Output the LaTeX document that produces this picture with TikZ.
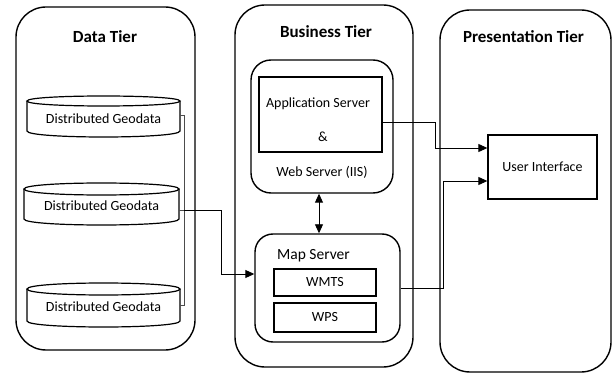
\documentclass[tikz,border=0pt]{standalone}
\usepackage{fontspec}
\setmainfont{Carlito}
\usetikzlibrary{arrows.meta,calc}
\begin{document}
\begin{tikzpicture}[x=1pt,y=-1pt,
 tier/.style={draw,line width=1.4pt,rounded corners=30pt,inner sep=0pt},
 rbox/.style={draw,line width=1.4pt,rounded corners=18pt,inner sep=0pt},
 sbox/.style={draw,line width=1.3pt,inner sep=0pt},
 lbl/.style={font=\fontsize{14}{16}\selectfont, inner sep=0pt},
 ttl/.style={font=\fontsize{17}{19}\selectfont\bfseries, inner sep=0pt},
 conn/.style={line width=0.9pt},
 arr/.style={conn,-{Triangle[length=9pt,width=8pt]}},
 darr/.style={conn,{Triangle[length=9pt,width=8pt]}-{Triangle[length=9pt,width=8pt]}},
 cylline/.style={line width=1.2pt},
 brk/.style={line width=0.7pt,black!70}]
\useasboundingbox (0,0) rectangle (613,374);
% tiers
\node[tier,minimum width=179pt,minimum height=343pt] (data) at (105.5,178.5) {};
\node[tier,minimum width=178pt,minimum height=362pt] (bus) at (324,186) {};
\node[tier,minimum width=171pt,minimum height=362pt] (pres) at (525.5,191) {};
\node[ttl] (tdata) at (105,37) {Data Tier};
\node[ttl] (tbus) at (326,32) {Business Tier};
\node[ttl] (tpres) at (523.5,37) {Presentation Tier};
% cylinders
\draw[cylline] (27,101) .. controls (27,94.33) and (180,94.33) .. (180,101) .. controls (180,107.67) and (27,107.67) .. (27,101) -- cycle;
\draw[cylline] (27,101) -- (27,131) .. controls (27,139) and (180,139) .. (180,131) -- (180,101);
\draw[cylline] (24,189) .. controls (24,181) and (179,181) .. (179,189) .. controls (179,197) and (24,197) .. (24,189) -- cycle;
\draw[cylline] (24,189) -- (24,219) .. controls (24,227) and (179,227) .. (179,219) -- (179,189);
\draw[cylline] (27,289) .. controls (27,281) and (180,281) .. (180,289) .. controls (180,297) and (27,297) .. (27,289) -- cycle;
\draw[cylline] (27,289) -- (27,321) .. controls (27,329) and (180,329) .. (180,321) -- (180,289);
\node[lbl,minimum width=153pt] (cyl1) at (103.5,119) {Distributed Geodata};
\node[lbl,minimum width=155pt] (cyl2) at (101.5,206) {Distributed Geodata};
\node[lbl,minimum width=153pt] (cyl3) at (103.5,307) {Distributed Geodata};
% business tier content
\node[rbox,rounded corners=20pt,minimum width=142pt,minimum height=133pt] (web) at (322,126.5) {};
\node[sbox,minimum width=123pt,minimum height=75pt] (app) at (320.5,114.5) {};
\node[lbl] (tapp) at (318,104) {Application Server};
\node[lbl] (tamp) at (323,137) {\&};
\node[lbl] (tweb) at (322,172) {Web Server (IIS)};
\node[rbox,minimum width=145pt,minimum height=108pt] (map) at (327.5,288) {};
\node[lbl,font=\fontsize{15.5}{17}\selectfont] (tmap) at (313.5,256) {Map Server};
\node[sbox,lbl,minimum width=102pt,minimum height=27pt] (wmts) at (325,282.5) {WMTS};
\node[sbox,lbl,minimum width=102pt,minimum height=29pt] (wps) at (325,317.5) {WPS};
% presentation tier content
\node[sbox,lbl,minimum width=109pt,minimum height=64pt] (ui) at (542.5,167) {User Interface};
% connectors
\coordinate (c1r) at ([yshift=4pt]cyl1.east);
\coordinate (c2r) at ([yshift=-4pt]cyl2.east);
\coordinate (c3r) at ([yshift=2pt]cyl3.east);
\coordinate (b1) at (184,115);
\coordinate (bm) at (184,210);
\coordinate (b3) at (184,305);
\coordinate (mapin) at ([yshift=14pt]map.west);
\draw[brk] (c1r) -- (b1) -- (b3) -- (c3r);
\draw[brk] (c2r) -- (bm);
\draw[arr] (bm) -| (221,274) -- (mapin);
\draw[darr] ([xshift=-3pt]web.south) -- ([xshift=-8.5pt]map.north);
\draw[arr] ([yshift=-7.5pt]app.east) -| (435,148) -- ([yshift=19pt]ui.west);
\draw[arr] (map.east) -| (443,181) -- ([yshift=-14pt]ui.west);
\end{tikzpicture}
\end{document}
